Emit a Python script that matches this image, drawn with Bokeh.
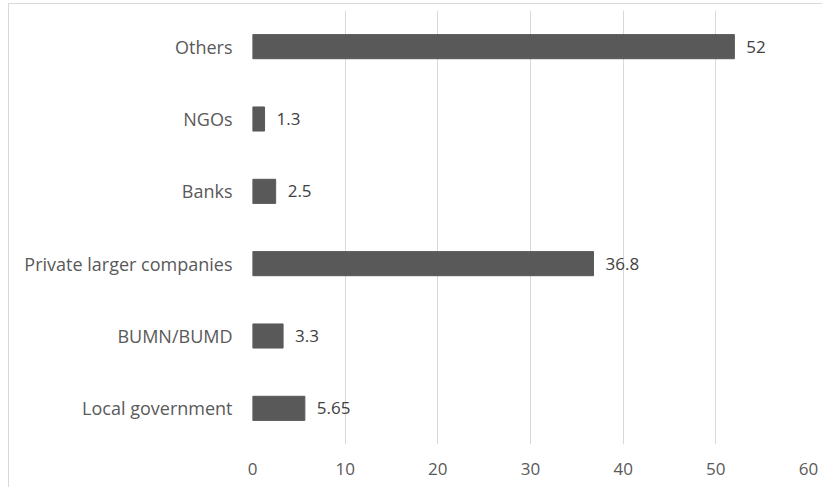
from bokeh.plotting import figure
from bokeh.models import ColumnDataSource, FixedTicker, Range1d
from bokeh.core.properties import value
from bokeh.embed import file_html
from bokeh.resources import INLINE

categories = ["Local government", "BUMN/BUMD", "Private larger companies", "Banks", "NGOs", "Others"]
values = [5.65, 3.3, 36.8, 2.5, 1.3, 52]
value_labels = ["5.65", "3.3", "36.8", "2.5", "1.3", "52"]
x_ticks = [0, 10, 20, 30, 40, 50, 60]

FONT = "Open Sans"
FS = "17px"

source = ColumnDataSource(data=dict(cat=categories, val=values, lab=value_labels))

p = figure(
    y_range=categories,
    x_range=Range1d(0, 60),
    width=814, height=484,
    output_backend="svg", toolbar_location=None,
    min_border_left=243, min_border_right=15, min_border_top=6, min_border_bottom=44,
)
p.styles = {"margin-left": "8px", "margin-top": "3px",
            "border-left": "1px solid #d9d9d9", "border-top": "1px solid #d9d9d9"}

p.hbar(y="cat", right="val", left=0, height=0.333, source=source,
       fill_color="#595959", line_color="#595959")

p.text(x="val", y="cat", text="lab", source=source, x_offset=12,
       text_baseline="middle", text_align="left",
       text_font=value(FONT), text_font_size=FS, text_color="#404040")

p.outline_line_color = None
p.background_fill_color = "white"
p.border_fill_color = "white"

p.xaxis.ticker = FixedTicker(ticks=x_ticks)
p.xaxis.axis_line_color = None
p.xaxis.major_tick_line_color = None
p.xaxis.minor_tick_line_color = None
p.xaxis.major_label_text_font = FONT
p.xaxis.major_label_text_font_size = FS
p.xaxis.major_label_text_color = "#595959"
p.xaxis.major_label_standoff = 12

p.yaxis.axis_line_color = None
p.yaxis.major_tick_line_color = None
p.yaxis.minor_tick_line_color = None
p.yaxis.major_label_text_font = FONT
p.yaxis.major_label_text_font_size = "18px"
p.yaxis.major_label_text_color = "#595959"
p.yaxis.major_label_standoff = 14

p.xgrid.grid_line_color = "#d9d9d9"
p.ygrid.grid_line_color = None

open("out.html", "w").write(file_html(p, INLINE))
